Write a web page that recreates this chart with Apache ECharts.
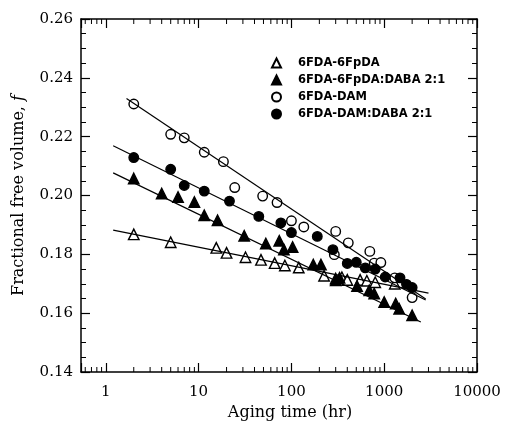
<!DOCTYPE html>
<html><head><meta charset="utf-8">
<script src="https://cdn.jsdelivr.net/npm/echarts@6/dist/echarts.min.js"></script>
<style>html,body{margin:0;padding:0;background:#fff}#c{width:505px;height:426px}</style>
</head><body><div id="c"></div>
<script>
// ---- data ----
const seriesNames = ['6FDA-6FpDA', '6FDA-6FpDA:DABA 2:1', '6FDA-DAM', '6FDA-DAM:DABA 2:1'];

const tA = [2, 5, 15.5, 20, 32, 47, 66, 85, 120, 225, 300, 350, 400, 550, 650, 800, 1300];
const fA = [0.1868, 0.1841, 0.1822, 0.1805, 0.1790, 0.1781, 0.1770, 0.1762, 0.1755, 0.1727, 0.1718, 0.1722, 0.1713, 0.1713, 0.1710, 0.1705, 0.1700];

const tB = [2, 4, 6, 9, 11.5, 16, 31, 53, 74, 83, 103, 172, 208, 300, 330, 510, 690, 780, 1000, 1330, 1450, 2000];
const fB = [0.2058, 0.2007, 0.1995, 0.1978, 0.1933, 0.1916, 0.1863, 0.1837, 0.1846, 0.1816, 0.1825, 0.1765, 0.1765, 0.1712, 0.1720, 0.1692, 0.1678, 0.1667, 0.1638, 0.1633, 0.1615, 0.1593];

const tC = [2, 5, 7, 11.5, 18.5, 24.5, 49, 70, 100, 136, 290, 300, 410, 700, 780, 920, 1300, 2000];
const fC = [0.2311, 0.2208, 0.2196, 0.2147, 0.2115, 0.2027, 0.1998, 0.1976, 0.1914, 0.1893, 0.1799, 0.1878, 0.1839, 0.1810, 0.1770, 0.1772, 0.1720, 0.1653];

const tD = [2, 5, 7, 11.5, 21.5, 44.5, 77, 100, 190, 280, 400, 500, 625, 800, 1025, 1480, 1740, 2000];
const fD = [0.2129, 0.2089, 0.2034, 0.2015, 0.1981, 0.1929, 0.1907, 0.1874, 0.1861, 0.1816, 0.1769, 0.1773, 0.1754, 0.1750, 0.1723, 0.1720, 0.1698, 0.1687];

// fitted lines (endpoints: time, f)
const fitA = [[1.2, 0.1882], [3000, 0.1668]];
const fitB = [[1.2, 0.2077], [2480, 0.1570]];
const fitC = [[1.67, 0.2330], [2800, 0.1648]];
const fitD = [[1.2, 0.2169], [2800, 0.1645]];

const xTickLabels = [1, 10, 100, 1000, 10000];
const xMinorTicks = [0.6, 0.7, 0.8, 0.9, 2, 3, 4, 5, 6, 7, 8, 9, 20, 30, 40, 50, 60, 70, 80, 90,
  200, 300, 400, 500, 600, 700, 800, 900, 2000, 3000, 4000, 5000, 6000, 7000, 8000, 9000];
const yTickLabels = [0.14, 0.16, 0.18, 0.20, 0.22, 0.24, 0.26];

const xMin = 0.54, xMax = 10000, yMin = 0.14, yMax = 0.26, yStep = 0.02;

// ---- chart ----
const zip = (t, f) => t.map((v, i) => [v, f[i]]);
const serif = 'DejaVu Serif';
const chart = echarts.init(document.getElementById('c'), null, {renderer: 'canvas'});

const xAxisBase = {
  type: 'log', logBase: 10, min: xMin, max: xMax,
  axisLine: {show: true, lineStyle: {color: '#000', width: 1.5}},
  axisTick: {show: true, inside: true, length: 9, lineStyle: {color: '#000', width: 1.2}},
  splitLine: {show: false}, minorTick: {show: false}
};
const yAxisBase = {
  type: 'value', min: yMin, max: yMax, interval: yStep,
  axisLine: {show: true, lineStyle: {color: '#000', width: 1.5}},
  axisTick: {show: true, inside: true, length: 9, lineStyle: {color: '#000', width: 1.2}},
  minorTick: {show: true, splitNumber: 4, length: 5, lineStyle: {color: '#000', width: 1}},
  splitLine: {show: false}, minorSplitLine: {show: false}
};

const scatterStyle = (sym, filled) => ({
  type: 'scatter', symbol: sym, symbolSize: sym === 'circle' ? 9.5 : 10.5,
  itemStyle: {color: filled ? '#000' : '#fff', borderColor: '#000', borderWidth: 1.4, opacity: 1},
  z: 3
});

const lineStyle = (d) => ({
  type: 'line', data: d, symbol: 'none', silent: true,
  lineStyle: {color: '#000', width: 1.2}, z: 4
});

chart.setOption({
  animation: false,
  backgroundColor: '#fff',
  grid: {left: 81, right: 28, top: 19, bottom: 54, containLabel: false},
  legend: {
    data: seriesNames, orient: 'vertical', left: 266, top: 51,
    itemWidth: 9, itemHeight: 9, itemGap: 3, symbolKeepAspect: true,
    textStyle: {fontFamily: 'DejaVu Sans', fontWeight: 'bold', fontSize: 11.5, color: '#000',
      lineHeight: 14, padding: [0, 0, 0, 12]}
  },
  xAxis: [
    Object.assign({}, xAxisBase, {
      position: 'bottom',
      name: 'Aging time (hr)', nameLocation: 'middle', nameGap: 33,
      nameTextStyle: {fontFamily: serif, fontSize: 16, color: '#000', padding: [0, 0, 0, 22]},
      axisLabel: {
        show: true, margin: 13, color: '#000', fontFamily: serif, fontSize: 15,
        formatter: v => {
          const hit = xTickLabels.find(t => Math.abs(t - v) / t < 1e-6);
          return hit !== undefined ? String(hit) : '';
        }
      }
    }),
    Object.assign({}, xAxisBase, {position: 'top', axisLabel: {show: false}})
  ],
  yAxis: [
    Object.assign({}, yAxisBase, {
      position: 'left',
      name: 'Fractional free volume, {i|f}', nameLocation: 'middle', nameGap: 54,
      nameTextStyle: {fontFamily: serif, fontSize: 16, color: '#000',
        rich: {i: {fontFamily: serif, fontSize: 16, fontStyle: 'italic', color: '#000'}}},
      axisLabel: {
        show: true, margin: 8, color: '#000', fontFamily: serif, fontSize: 15,
        formatter: v => {
          const hit = yTickLabels.find(t => Math.abs(t - v) < 1e-9);
          return hit !== undefined ? hit.toFixed(2) : '';
        }
      }
    }),
    Object.assign({}, yAxisBase, {position: 'right', axisLabel: {show: false}})
  ],
  series: [
    lineStyle(fitA), lineStyle(fitB), lineStyle(fitC), lineStyle(fitD),
    Object.assign({name: seriesNames[0], data: zip(tA, fA)}, scatterStyle('triangle', false)),
    Object.assign({name: seriesNames[1], data: zip(tB, fB)}, scatterStyle('triangle', true)),
    Object.assign({name: seriesNames[2], data: zip(tC, fC)}, scatterStyle('circle', false)),
    Object.assign({name: seriesNames[3], data: zip(tD, fD)}, scatterStyle('circle', true)),
    {
      type: 'custom', silent: true, clip: false, z: 5,
      data: xMinorTicks.map(v => [v, yMin]),
      renderItem: (params, api) => {
        const cs = params.coordSys;
        const x = api.coord([api.value(0), api.value(1)])[0];
        const len = 5;
        const st = {stroke: '#000', lineWidth: 1};
        return {type: 'group', children: [
          {type: 'line', shape: {x1: x, y1: cs.y + cs.height, x2: x, y2: cs.y + cs.height - len}, style: st},
          {type: 'line', shape: {x1: x, y1: cs.y, x2: x, y2: cs.y + len}, style: st}
        ]};
      }
    }
  ]
});
</script>
</body></html>
